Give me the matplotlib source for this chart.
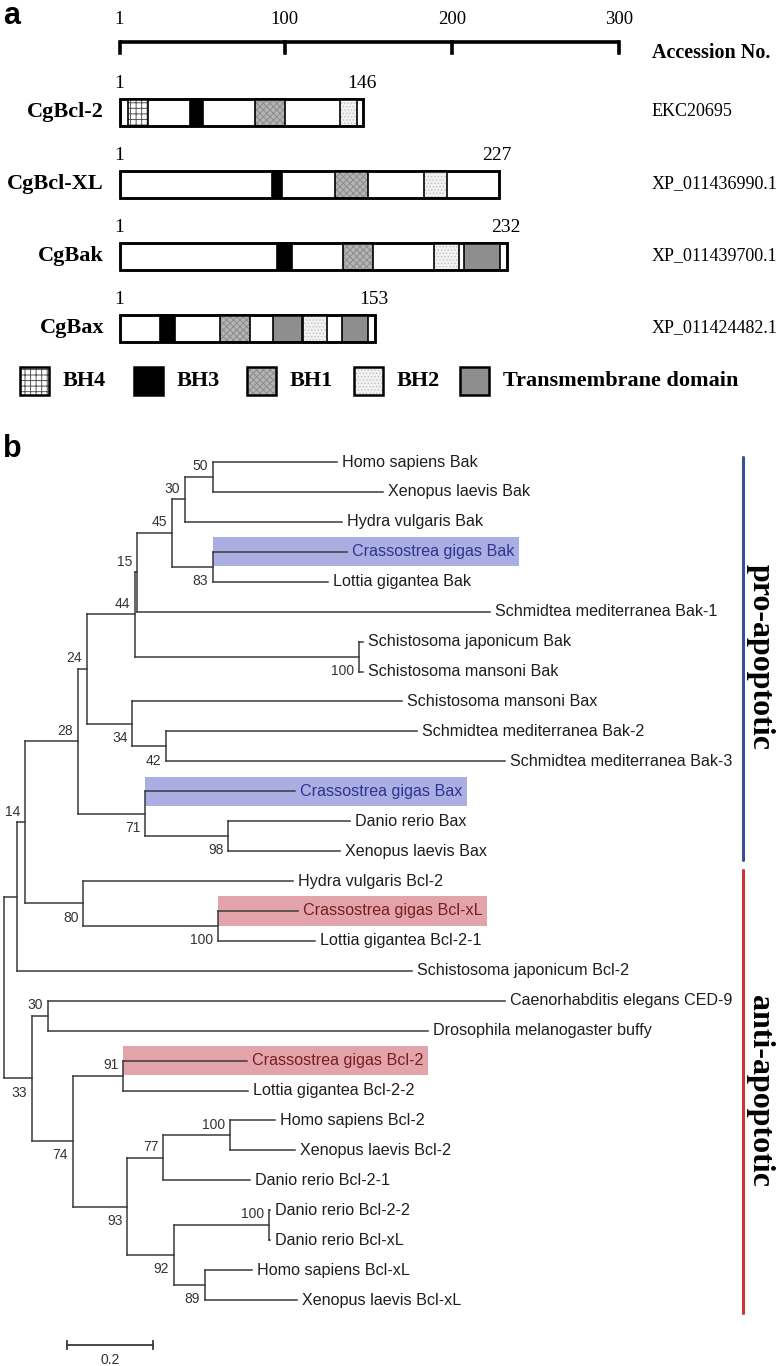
import matplotlib
matplotlib.use('Agg')
import matplotlib.pyplot as plt
from matplotlib.patches import Rectangle

# ---------------- panel a: domain architecture ----------------
proteins = ['CgBcl-2', 'CgBcl-XL', 'CgBak', 'CgBax']
lengths = [146, 227, 232, 153]
accessions = ['EKC20695', 'XP_011436990.1', 'XP_011439700.1', 'XP_011424482.1']
bcl2_domains = [('BH4', 6, 18), ('BH3', 43, 51), ('BH1', 82, 100), ('BH2', 133, 143)]
bclxl_domains = [('BH3', 92, 98), ('BH1', 130, 150), ('BH2', 183, 197)]
bak_domains = [('BH3', 95, 104), ('BH1', 135, 153), ('BH2', 189, 204), ('TM', 207, 229)]
bax_domains = [('BH3', 25, 34), ('BH1', 61, 79), ('TM', 93, 110), ('BH2', 111, 125), ('TM', 134, 150)]
scale_ticks = [1, 100, 200, 300]
legend_keys = ['BH4', 'BH3', 'BH1', 'BH2', 'TM']
legend_names = ['BH4', 'BH3', 'BH1', 'BH2', 'Transmembrane domain']

# ---------------- panel b: phylogenetic tree ----------------
taxa = ['Homo sapiens Bak', 'Xenopus laevis Bak', 'Hydra vulgaris Bak', 'Crassostrea gigas Bak',
        'Lottia gigantea Bak', 'Schmidtea mediterranea Bak-1', 'Schistosoma japonicum Bak',
        'Schistosoma mansoni Bak', 'Schistosoma mansoni Bax', 'Schmidtea mediterranea Bak-2',
        'Schmidtea mediterranea Bak-3', 'Crassostrea gigas Bax', 'Danio rerio Bax',
        'Xenopus laevis Bax', 'Hydra vulgaris Bcl-2', 'Crassostrea gigas Bcl-xL',
        'Lottia gigantea Bcl-2-1', 'Schistosoma japonicum Bcl-2', 'Caenorhabditis elegans CED-9',
        'Drosophila melanogaster buffy', 'Crassostrea gigas Bcl-2', 'Lottia gigantea Bcl-2-2',
        'Homo sapiens Bcl-2', 'Xenopus laevis Bcl-2', 'Danio rerio Bcl-2-1', 'Danio rerio Bcl-2-2',
        'Danio rerio Bcl-xL', 'Homo sapiens Bcl-xL', 'Xenopus laevis Bcl-xL']
tip_depth = [0.774, 0.881, 0.786, 0.798, 0.754, 1.130, 0.835, 0.835, 0.926, 0.960,
             1.165, 0.677, 0.805, 0.781, 0.672, 0.684, 0.723, 0.949, 1.165, 0.986,
             0.565, 0.567, 0.630, 0.677, 0.572, 0.619, 0.619, 0.577, 0.681]
# clade -> (children, depth from root, bootstrap)
clades = {
    'root': (['A', 'I'], 0.0, None),
    'A': (['B', 17], 0.030, None),
    'B': (['C', 'D'], 0.049, '14'),
    'C': (['E', 'F'], 0.172, '28'),
    'E': (['G', 'H'], 0.193, '24'),
    'G': (['n15', 'sch'], 0.305, '44'),
    'n15': (['n45', 5], 0.309, '15'),
    'n45': (['n30', 'n83'], 0.391, '45'),
    'n30': (['n50', 2], 0.421, '30'),
    'n50': ([0, 1], 0.486, '50'),
    'n83': ([3, 4], 0.486, '83'),
    'sch': ([6, 7], 0.826, '100'),
    'H': ([8, 'n42'], 0.298, '34'),
    'n42': ([9, 10], 0.377, '42'),
    'F': ([11, 'n98'], 0.328, '71'),
    'n98': ([12, 13], 0.521, '98'),
    'D': ([14, 'xl'], 0.184, '80'),
    'xl': ([15, 16], 0.498, '100'),
    'I': (['J', 'K'], 0.065, '33'),
    'J': ([18, 19], 0.102, '30'),
    'K': (['n91', 'n93'], 0.160, '74'),
    'n91': ([20, 21], 0.277, '91'),
    'n93': (['n77', 'n92'], 0.286, '93'),
    'n77': (['b2', 24], 0.370, '77'),
    'b2': ([22, 23], 0.526, '100'),
    'n92': (['dr', 'n89'], 0.395, '92'),
    'dr': ([25, 26], 0.616, '100'),
    'n89': ([27, 28], 0.467, '89'),
}
highlight = {3: 'blue', 11: 'blue', 15: 'red', 20: 'red'}
groups = ['pro-apoptotic', 'anti-apoptotic']
group_span = [(0, 13), (14, 28)]
scale_length = 0.2

SERIF = 'Liberation Serif'
SANS = 'Liberation Sans'
plt.rcParams['hatch.linewidth'] = 0.7

W, H = 781, 1366
fig = plt.figure(figsize=(W / 100, H / 100), dpi=100)

# ---- panel a axes: x in residues, y in rows (mapped to pixels of the figure)
ax_a = fig.add_axes([0, 0, 1, 1])
ax_a.axis('off')
aa_px0, aa_scale = 119.5, 1.6706     # px of residue 1, px per residue
row_px0, row_step = 112, 72          # px of first row, px between rows
def px2aa(px):
    return (px - aa_px0) / aa_scale + 1
def px2row(px):
    return (px - row_px0) / row_step
ax_a.set_xlim(px2aa(0), px2aa(W))
ax_a.set_ylim(px2row(H), px2row(0))

styles = {
    'BH4': dict(face='white', hatch='+++', hcol='#555555'),
    'BH3': dict(face='black', hatch=None, hcol=None),
    'BH1': dict(face='#b4b4b4', hatch='xxxxx', hcol='#8c8c8c'),
    'BH2': dict(face='#f2f2f2', hatch='.....', hcol='#c4c4c4'),
    'TM': dict(face='#8e8e8e', hatch=None, hcol=None),
}

def styled_box(ax, x0, y0, w, h, key, lw=1.2, z=3):
    st = styles[key]
    ax.add_patch(Rectangle((x0, y0), w, h, facecolor=st['face'], edgecolor=st['hcol'] or 'none',
                           hatch=st['hatch'], lw=0, zorder=z))
    ax.add_patch(Rectangle((x0, y0), w, h, fill=False, edgecolor='black', lw=lw, zorder=z + 1))

# scale bar
bar_y = px2row(42)
ax_a.plot([scale_ticks[0], scale_ticks[-1]], [bar_y, bar_y], color='black', lw=2.6,
          solid_capstyle='butt')
for t in scale_ticks:
    ax_a.plot([t, t], [bar_y, px2row(53)], color='black', lw=2.6)
    ax_a.text(t, px2row(20), str(t), ha='center', va='center', family=SERIF, fontsize=13.5)
ax_a.text(px2aa(652), px2row(53), 'Accession No.', ha='left', va='center', family=SERIF,
          fontsize=14.5, fontweight='bold')

all_domains = [bcl2_domains, bclxl_domains, bak_domains, bax_domains]
half = 13.5 / row_step
for r, (name, ln, acc, doms) in enumerate(zip(proteins, lengths, accessions, all_domains)):
    ax_a.add_patch(Rectangle((1, r - half), ln, 2 * half, facecolor='white',
                             edgecolor='black', lw=1.8, zorder=2))
    for key, s, e in doms:
        styled_box(ax_a, s, r - half, e - s, 2 * half, key)
    ax_a.add_patch(Rectangle((1, r - half), ln, 2 * half, fill=False,
                             edgecolor='black', lw=1.8, zorder=6))
    ax_a.text(px2aa(104), r, name, ha='right', va='center', family=SERIF,
              fontsize=16, fontweight='bold')
    ax_a.text(1, r - 28 / row_step, '1', ha='center', va='center', family=SERIF, fontsize=14)
    ax_a.text(ln, r - 28 / row_step, str(ln), ha='center', va='center', family=SERIF, fontsize=14)
    ax_a.text(px2aa(652), r, acc, ha='left', va='center', family=SERIF, fontsize=13)

# legend
leg_y = px2row(381)
leg_left = [20, 134, 247, 354, 460]
lw_box = 29 / aa_scale
for key, label, lx in zip(legend_keys, legend_names, leg_left):
    x0 = px2aa(lx)
    styled_box(ax_a, x0, leg_y - 14 / row_step, lw_box, 28 / row_step, key, lw=1.8)
    ax_a.text(px2aa(lx + 43), leg_y, label, ha='left', va='center', family=SERIF,
              fontsize=16, fontweight='bold')

# ---- panel b axes: x in substitutions/site, y in leaf index
ax_b = fig.add_axes([0, 0, 1, 1])
ax_b.axis('off')
ax_b.patch.set_alpha(0)
d_px0, d_scale = 4, 430            # px of root, px per unit distance
leaf_px0, leaf_step = 462, 29.93
ax_b.set_xlim(-d_px0 / d_scale, (W - d_px0) / d_scale)
ax_b.set_ylim((H - leaf_px0) / leaf_step, -leaf_px0 / leaf_step)

line_kw = dict(color='#3a3a3a', lw=1.1, solid_capstyle='projecting', zorder=3)
node_y, node_x = {}, {}

def layout(node):
    if isinstance(node, int):
        node_y[node] = node
        node_x[node] = tip_depth[node]
        return node
    kids, depth, _ = clades[node]
    ys = [layout(k) for k in kids]
    node_y[node] = (min(ys) + max(ys)) / 2
    node_x[node] = depth
    return node_y[node]

layout('root')

parent_of = {}
for name, (kids, depth, sup) in clades.items():
    ys = [node_y[k] for k in kids]
    ax_b.plot([depth, depth], [min(ys), max(ys)], **line_kw)
    for i, k in enumerate(kids):
        parent_of[k] = (name, i)
        ax_b.plot([depth, node_x[k]], [node_y[k], node_y[k]], **line_kw)

# bootstrap values: above the branch for upper child, below for lower child
for name, (kids, depth, sup) in clades.items():
    if sup is None:
        continue
    pos = parent_of[name][1]
    dy = 7.8 if pos == 0 else -10.2
    ax_b.annotate(sup, xy=(depth, node_y[name]), xytext=(-3.4, dy), textcoords='offset points',
                  ha='right', va='center', family=SANS, fontsize=10, color='#333333')

hl_face = {'blue': '#aaaee2', 'red': '#e2a4aa'}
hl_text = {'blue': '#2c3590', 'red': '#7a1c22'}
leaf_texts = []
for i, name in enumerate(taxa):
    col = hl_text[highlight[i]] if i in highlight else '#1e1e1e'
    t = ax_b.annotate(name, xy=(tip_depth[i], i), xytext=(3.8, 0), textcoords='offset points',
                      ha='left', va='center', family=SANS, fontsize=11.6, color=col, zorder=4)
    leaf_texts.append(t)

fig.canvas.draw()
renderer = fig.canvas.get_renderer()
inv = ax_b.transData.inverted()
for i, key in highlight.items():
    bb = leaf_texts[i].get_window_extent(renderer)
    x_end = inv.transform((bb.x1 + 4, 0))[0]
    x0 = clades[parent_of[i][0]][1]
    ax_b.add_patch(Rectangle((x0, i - 0.49), x_end - x0, 0.98, facecolor=hl_face[key],
                             edgecolor='none', zorder=1))

# clade bars
bar_x = (743 - d_px0) / d_scale
bar_cols = ['#3c4ea0', '#cc3535']
for (lo, hi), label, col in zip(group_span, groups, bar_cols):
    ext_lo = 0.17 if lo == 0 else 0.37
    ext_hi = 0.3 if hi == 13 else 0.43
    ax_b.plot([bar_x, bar_x], [lo - ext_lo, hi + ext_hi], color=col, lw=2.2,
              solid_capstyle='round')
    ax_b.text(bar_x + 17 / d_scale, (lo + hi) / 2, label, rotation=270, ha='center', va='center',
              family=SERIF, fontsize=23, fontweight='bold')

# scale bar
sb_x0 = (67 - d_px0) / d_scale
sb_y = (1345 - leaf_px0) / leaf_step
ax_b.plot([sb_x0, sb_x0 + scale_length], [sb_y, sb_y], color='#3a3a3a', lw=1.3)
for xx in (sb_x0, sb_x0 + scale_length):
    ax_b.plot([xx, xx], [sb_y - 0.15, sb_y + 0.15], color='#3a3a3a', lw=1.3)
ax_b.text(sb_x0 + scale_length / 2, sb_y + 0.5, str(scale_length), ha='center', va='center',
          family=SANS, fontsize=10, color='#333333')

# panel letters
fig.text(3 / W, 1 - 1 / H, 'a', ha='left', va='top', family=SANS, fontsize=22, fontweight='bold')
fig.text(3 / W, 1 - 434 / H, 'b', ha='left', va='top', family=SANS, fontsize=22, fontweight='bold')

fig.savefig('out.png', dpi=100)
